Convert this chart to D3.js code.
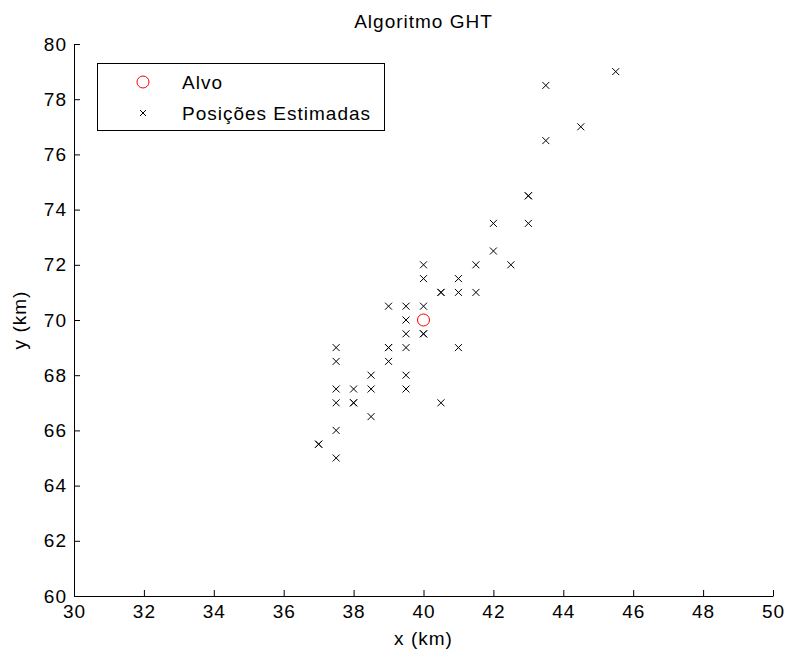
<!DOCTYPE html>
<html>
<head>
<meta charset="utf-8">
<script src="https://cdn.jsdelivr.net/npm/d3@7"></script>
<style>
  body { margin: 0; background: #fff; }
  text { font-family: "Liberation Sans", Arial, sans-serif; }
</style>
</head>
<body>
<script>
// estimated positions (duplicates drawn twice, they look bolder)
var estX = [42, 43, 42, 40, 41.5, 42.5, 40, 41, 40.5, 40.5, 41, 41.5,
            39, 39.5, 40, 39.5, 39.5, 40, 40, 37.5, 39, 39, 39.5, 41,
            37.5, 39, 38.5, 39.5, 37.5, 38, 38.5, 39.5, 37.5, 38, 38, 40.5,
            38.5, 37.5, 37, 37, 37.5,
            45.5, 43.5, 44.5, 43.5, 43, 43]
var estY = [73.5, 73.5, 72.5, 72, 72, 72, 71.5, 71.5, 71, 71, 71, 71,
            70.5, 70.5, 70.5, 70, 69.5, 69.5, 69.5, 69, 69, 69, 69, 69,
            68.5, 68.5, 68, 68, 67.5, 67.5, 67.5, 67.5, 67, 67, 67, 67,
            66.5, 66, 65.5, 65.5, 65,
            79, 78.5, 77, 76.5, 74.5, 74.5]
var targetX = [40]
var targetY = [70]
var xTicks = [30, 32, 34, 36, 38, 40, 42, 44, 46, 48, 50]
var yTicks = [60, 62, 64, 66, 68, 70, 72, 74, 76, 78, 80]
var legendNames = ["Alvo", "Posições Estimadas"]

;(function () {

var width = 787, height = 655
var pl = 74, pr = 773, pt = 44, pb = 596

var svg = d3.select("body").append("svg")
  .attr("width", width)
  .attr("height", height)

var x = d3.scaleLinear().domain([30, 50]).range([pl, pr])
var y = d3.scaleLinear().domain([60, 80]).range([pb, pt])

var fs = 19, ls = "1px"

// axes
svg.append("g")
  .attr("transform", "translate(0," + pb + ")")
  .call(d3.axisBottom(x).tickValues(xTicks).tickSize(-6).tickPadding(9).tickSizeOuter(0))
svg.append("g")
  .attr("transform", "translate(" + pl + ",0)")
  .call(d3.axisLeft(y).tickValues(yTicks).tickSize(-6).tickPadding(7).tickSizeOuter(0))

svg.selectAll(".domain").attr("stroke", "#000").attr("stroke-width", 1)
svg.selectAll(".tick line").attr("stroke", "#000")
svg.selectAll(".tick text")
  .attr("fill", "#000")
  .style("font-size", fs + "px")
  .style("letter-spacing", ls)
  .style("font-family", "'Liberation Sans', Arial, sans-serif")

// labels
svg.append("text")
  .attr("x", (pl + pr) / 2)
  .attr("y", 28)
  .attr("text-anchor", "middle")
  .style("font-size", fs + "px")
  .style("letter-spacing", ls)
  .text("Algoritmo GHT")

svg.append("text")
  .attr("x", (pl + pr) / 2)
  .attr("y", 645)
  .attr("text-anchor", "middle")
  .style("font-size", fs + "px")
  .style("letter-spacing", ls)
  .text("x (km)")

svg.append("text")
  .attr("transform", "translate(26," + ((pt + pb) / 2) + ") rotate(-90)")
  .attr("text-anchor", "middle")
  .style("font-size", fs + "px")
  .style("letter-spacing", ls)
  .text("y (km)")

// markers
function cross(g, cx, cy, s) {
  g.append("path")
    .attr("d", "M" + (cx - s) + "," + (cy - s) + "L" + (cx + s) + "," + (cy + s) +
               "M" + (cx - s) + "," + (cy + s) + "L" + (cx + s) + "," + (cy - s))
    .attr("stroke", "#000")
    .attr("stroke-width", 1)
    .attr("fill", "none")
}

var pts = svg.append("g")
estX.forEach(function(d, i) {
  cross(pts, x(d), y(estY[i]), 3.5)
})

svg.selectAll(".alvo")
  .data(targetX)
  .enter().append("circle")
  .attr("class", "alvo")
  .attr("cx", function(d) { return x(d) })
  .attr("cy", function(d, i) { return y(targetY[i]) })
  .attr("r", 6)
  .attr("fill", "none")
  .attr("stroke", "red")
  .attr("stroke-width", 1)

// legend
var lg = svg.append("g")
lg.append("rect")
  .attr("x", 97.5).attr("y", 63.5)
  .attr("width", 287).attr("height", 67)
  .attr("fill", "#fff").attr("stroke", "#000").attr("stroke-width", 1)

lg.append("circle")
  .attr("cx", 143).attr("cy", 82).attr("r", 6)
  .attr("fill", "none").attr("stroke", "red")
cross(lg, 143, 113, 3)

lg.selectAll(".lt")
  .data(legendNames)
  .enter().append("text")
  .attr("class", "lt")
  .attr("x", 182)
  .attr("y", function(d, i) { return 89 + i * 31 })
  .style("font-size", fs + "px")
  .style("letter-spacing", ls)
  .text(function(d) { return d })

}())
</script>
</body>
</html>
